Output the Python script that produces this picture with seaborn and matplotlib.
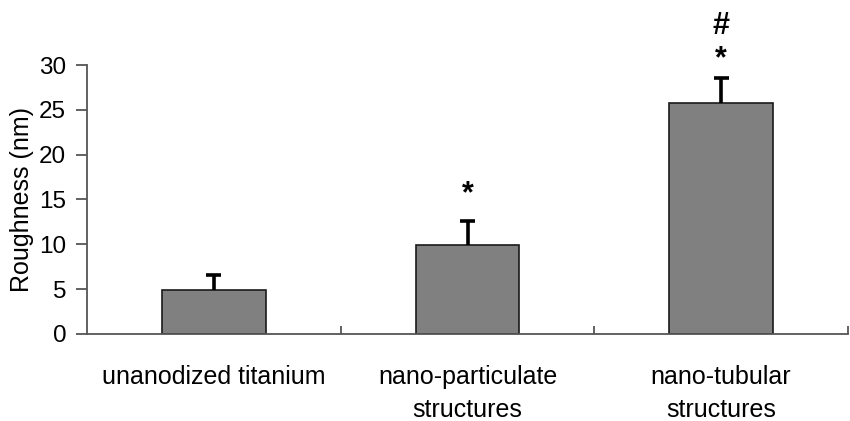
import matplotlib
matplotlib.use("Agg")
import matplotlib.pyplot as plt
import seaborn as sns
import pandas as pd
import numpy as np

categories = ["unanodized titanium", "nano-particulate\nstructures", "nano-tubular\nstructures"]
roughness = [4.9, 9.9, 25.8]
sd = [1.7, 2.7, 2.8]

sns.set_theme(style="white")
plt.rcParams["font.family"] = ["Liberation Sans", "DejaVu Sans"]
plt.rcParams["text.color"] = "black"

df = pd.DataFrame({"group": categories, "roughness": roughness})

fig = plt.figure(figsize=(8.5, 4.21), dpi=100)
ax = fig.add_axes([0.1024, 0.2067, 0.8952, 0.6389])

sns.barplot(data=df, x="group", y="roughness", order=categories, color="#808080",
            saturation=1, width=0.41, edgecolor="#1a1a1a", linewidth=1.2, ax=ax,
            errorbar=None)

# upper-only error bars with a cap
xpos = np.arange(len(categories))
tops = np.array(roughness) + np.array(sd)
ax.vlines(xpos, roughness, tops, colors="black", linewidth=2.6, zorder=3)
ax.hlines(tops, xpos - 0.03, xpos + 0.03, colors="black", linewidth=2.6, zorder=3)

# significance markers above the error bars
mk = dict(ha="center", va="center", fontsize=22, fontweight="bold", color="black",
          clip_on=False)
ax.text(1, tops[1] + 3.0, "*", **mk)
ax.text(2, tops[2] + 2.0, "*", **mk)
ax.text(2, tops[2] + 5.8, "#", **mk)

ax.set_xlim(-0.5, 2.5)
ax.set_ylim(0, 30)
ax.set_yticks([0, 5, 10, 15, 20, 25, 30])
ax.set_ylabel("Roughness (nm)", fontsize=18, labelpad=4, color="black")
ax.set_xlabel("")

for side in ["top", "right"]:
    ax.spines[side].set_visible(False)
for side in ["left", "bottom"]:
    ax.spines[side].set_color("#555555")
    ax.spines[side].set_linewidth(1.3)

ax.tick_params(axis="y", direction="out", length=8, width=1.3, color="#555555",
               labelsize=17.5, pad=7, left=True, labelcolor="black")
ax.tick_params(axis="x", length=0, labelsize=18, pad=22, labelcolor="black")
ax.set_xticks(xpos)
ax.set_xticklabels(categories, linespacing=1.5)

# small inward ticks at the category boundaries
ax.set_xticks([0.5, 1.5, 2.5], minor=True)
ax.tick_params(axis="x", which="minor", direction="in", length=6, width=1.3,
               color="#555555", bottom=True)

fig.savefig("out.png", dpi=100)
